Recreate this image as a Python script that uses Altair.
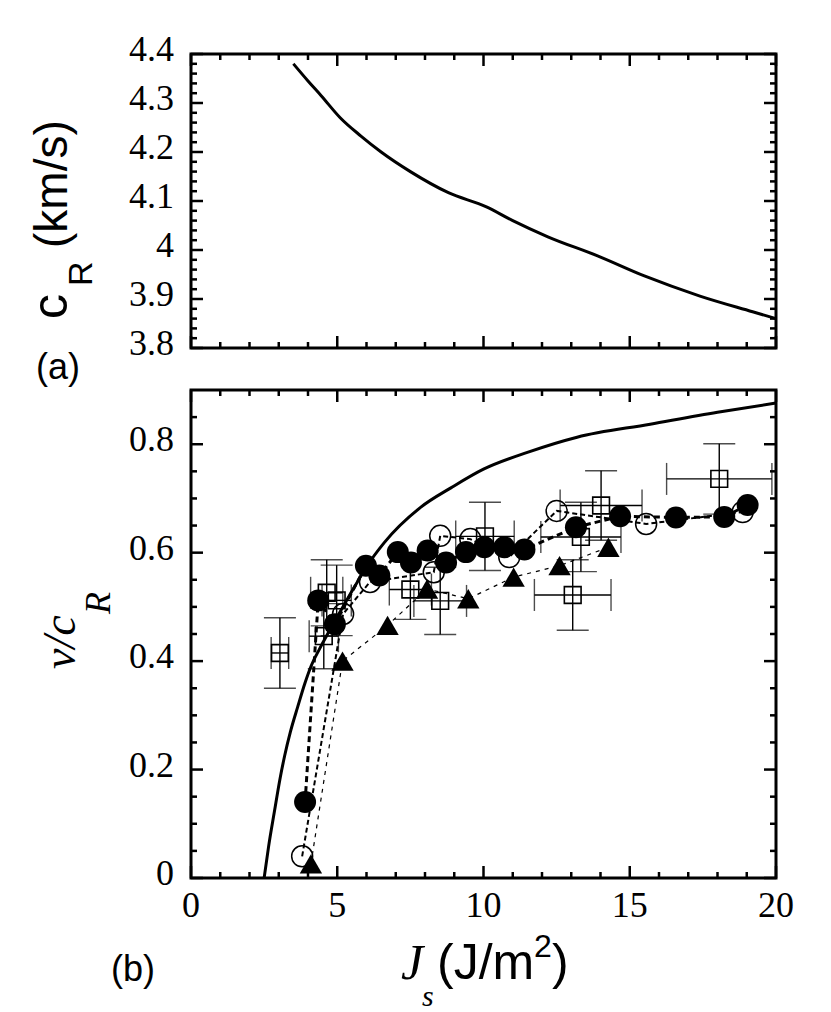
import altair as alt
import pandas as pd

# ---------------- data ----------------
# (a) Rayleigh wave speed c_R vs J_s
a_js = [3.5, 4.0, 4.45, 5.1, 5.8, 6.5, 7.5, 8.8, 10.1, 11.0, 12.2, 13.9, 15.5, 17.4, 19.2, 20.0]
a_cr = [4.38, 4.345, 4.315, 4.27, 4.233, 4.2, 4.16, 4.117, 4.088, 4.06, 4.027, 3.988, 3.947, 3.906, 3.874, 3.86]

# (b) theory curve
th_js = [2.5, 2.65, 2.85, 3.05, 3.2, 3.4, 3.65, 3.9, 4.1, 4.4, 4.67, 4.9, 5.6, 6.0, 6.6,
         7.86, 8.9, 10.0, 11.5, 13.2, 15.7, 18.0, 20.0]
th_v = [0.0, 0.057, 0.122, 0.185, 0.225, 0.27, 0.316, 0.36, 0.39, 0.423, 0.45, 0.472, 0.538, 0.574, 0.618,
        0.684, 0.72, 0.754, 0.785, 0.813, 0.837, 0.859, 0.876]

# filled circles
fc_js = [3.9, 4.35, 4.92, 5.98, 6.44, 7.07, 7.52, 8.09, 8.72, 9.4, 10.03, 10.71, 11.4, 13.16, 14.67, 16.58, 18.23, 19.03]
fc_v = [0.14, 0.512, 0.468, 0.576, 0.558, 0.601, 0.582, 0.604, 0.582, 0.601, 0.61, 0.61, 0.606, 0.647, 0.667, 0.665, 0.666, 0.688]

# open circles
oc_js = [3.8, 5.2, 6.12, 8.3, 8.52, 9.55, 10.88, 12.5, 15.56, 18.86]
oc_v = [0.04, 0.487, 0.546, 0.564, 0.631, 0.625, 0.592, 0.677, 0.653, 0.675]

# filled triangles
tr_js = [4.1, 5.18, 6.72, 8.07, 9.48, 11.03, 12.6, 14.27]
tr_v = [0.026, 0.40, 0.466, 0.533, 0.515, 0.555, 0.576, 0.61]

# open squares with error bars
sq_js = [3.04, 4.64, 4.98, 4.54, 7.5, 8.52, 10.05, 13.05, 13.33, 14.02, 18.06]
sq_v = [0.415, 0.526, 0.512, 0.446, 0.532, 0.511, 0.63, 0.522, 0.629, 0.687, 0.736]
sq_dx = [0.3, 0.55, 0.5, 0.5, 0.72, 0.9, 1.0, 1.31, 1.37, 1.4, 1.8]
sq_dv = [0.065, 0.061, 0.065, 0.06, 0.055, 0.062, 0.063, 0.065, 0.064, 0.064, 0.065]

# ticks and tick labels
x_major = [0, 5, 10, 15, 20]
x_minor = [1, 2, 3, 4, 6, 7, 8, 9, 11, 12, 13, 14, 16, 17, 18, 19]
a_y_major = [3.8, 3.9, 4.0, 4.1, 4.2, 4.3, 4.4]
a_y_minor = [3.82, 3.84, 3.86, 3.88, 3.92, 3.94, 3.96, 3.98, 4.02, 4.04, 4.06, 4.08,
             4.12, 4.14, 4.16, 4.18, 4.22, 4.24, 4.26, 4.28, 4.32, 4.34, 4.36, 4.38]
b_y_major = [0, 0.2, 0.4, 0.6, 0.8]
b_y_minor = [0.05, 0.1, 0.15, 0.25, 0.3, 0.35, 0.45, 0.5, 0.55, 0.65, 0.7, 0.75, 0.85]

# ---------------- layout ----------------
W = 585
HA = 294
HB = 488
SERIF = "Liberation Serif"
SANS = "Liberation Sans"
MAJ = 12
MIN = 6
LAB = 36

xs = alt.Scale(domain=[0, 20], nice=False, zero=False)
ya = alt.Scale(domain=[3.8, 4.4], nice=False, zero=False)
yb = alt.Scale(domain=[0, 0.9], nice=False, zero=False)


def X(f):
    return alt.X(f, type="quantitative", scale=xs, axis=None)


def Yf(f, scale):
    return alt.Y(f, type="quantitative", scale=scale, axis=None)


def tick_layers(xvals_major, xvals_minor, yvals_major, yvals_minor, yscale, H):
    out = []
    for vals, L in ((xvals_major, MAJ), (xvals_minor, MIN)):
        base = alt.Chart(pd.DataFrame({"t": vals})).mark_rule(color="black", strokeWidth=2.5)
        out.append(base.encode(x=X("t"), y=alt.value(H), y2=alt.value(H - L)))
        out.append(base.encode(x=X("t"), y=alt.value(0), y2=alt.value(L)))
    for vals, L in ((yvals_major, MAJ), (yvals_minor, MIN)):
        base = alt.Chart(pd.DataFrame({"t": vals})).mark_rule(color="black", strokeWidth=2.5)
        out.append(base.encode(y=Yf("t", yscale), x=alt.value(0), x2=alt.value(L)))
        out.append(base.encode(y=Yf("t", yscale), x=alt.value(W), x2=alt.value(W - L)))
    return out


def y_labels(vals, yscale):
    return alt.Chart(pd.DataFrame({"t": vals})).mark_text(
        font=SERIF, fontSize=LAB, align="right", baseline="middle", color="black", dy=-4
    ).encode(y=Yf("t", yscale), x=alt.value(-17), text=alt.Text("t:Q", format=".1~f"))


def x_labels(vals, H):
    return alt.Chart(pd.DataFrame({"t": vals})).mark_text(
        font=SERIF, fontSize=LAB, align="center", baseline="top", color="black"
    ).encode(x=X("t"), y=alt.value(H + 11), text=alt.Text("t:Q", format="d"))


def label(txt, x, y, size, font, style="normal", angle=0, align="left"):
    return alt.Chart(pd.DataFrame({"t": [txt]})).mark_text(
        font=font, fontSize=size, fontStyle=style, angle=angle, align=align,
        baseline="alphabetic", color="black"
    ).encode(x=alt.value(x), y=alt.value(y), text="t:N")


# ---------------- panel (a) ----------------
df_a = pd.DataFrame({"js": a_js, "cr": a_cr})
curve_a = alt.Chart(df_a).mark_line(color="black", strokeWidth=3, interpolate="monotone").encode(
    x=X("js"), y=Yf("cr", ya))

panel_a = alt.layer(
    curve_a,
    *tick_layers(x_major, x_minor, a_y_major, a_y_minor, ya, HA),
    y_labels(a_y_major, ya),
    label("c", -124, 265, 50, SANS, angle=270),
    label("R", -99, 232, 34, SANS, angle=270),
    label("(km/s)", -124, 194, 46, SANS, angle=270),
    label("(a)", -155, 325, 36, SANS),
).properties(width=W, height=HA)

# ---------------- panel (b) ----------------
df_th = pd.DataFrame({"js": th_js, "v": th_v})
df_fc = pd.DataFrame({"js": fc_js, "v": fc_v, "i": list(range(len(fc_js)))})
df_oc = pd.DataFrame({"js": oc_js, "v": oc_v, "i": list(range(len(oc_js)))})
df_tr = pd.DataFrame({"js": tr_js, "v": tr_v, "i": list(range(len(tr_js)))})
df_sq = pd.DataFrame({"js": sq_js, "v": sq_v, "dx": sq_dx, "dv": sq_dv})

sq_base = alt.Chart(df_sq).transform_calculate(
    xlo="datum.js - datum.dx", xhi="datum.js + datum.dx",
    vlo="datum.v - datum.dv", vhi="datum.v + datum.dv",
)
ebar_x = sq_base.mark_rule(color="black", strokeWidth=1.4).encode(
    x=X("xlo"), x2="xhi:Q", y=Yf("v", yb))
ebar_y = sq_base.mark_rule(color="black", strokeWidth=1.4).encode(
    x=X("js"), y=Yf("vlo", yb), y2="vhi:Q")
cap_lo = sq_base.mark_tick(orient="horizontal", size=32, thickness=1.4, color="black").encode(
    x=X("js"), y=Yf("vlo", yb))
cap_hi = sq_base.mark_tick(orient="horizontal", size=32, thickness=1.4, color="black").encode(
    x=X("js"), y=Yf("vhi", yb))
cap_l = sq_base.mark_tick(orient="vertical", size=32, thickness=1.4, color="black").encode(
    x=X("xlo"), y=Yf("v", yb))
cap_r = sq_base.mark_tick(orient="vertical", size=32, thickness=1.4, color="black").encode(
    x=X("xhi"), y=Yf("v", yb))
squares = alt.Chart(df_sq).mark_point(shape="square", size=280, filled=False, color="black",
                                      strokeWidth=1.6, opacity=1).encode(
    x=X("js"), y=Yf("v", yb))

tr_line = alt.Chart(df_tr).mark_line(color="black", strokeWidth=1.2, strokeDash=[4, 5]).encode(
    x=X("js"), y=Yf("v", yb), order="i:Q")
tr_pts = alt.Chart(df_tr).mark_point(shape="triangle-up", size=500, filled=True, color="black",
                                     opacity=1).encode(x=X("js"), y=Yf("v", yb))

oc_line = alt.Chart(df_oc).mark_line(color="black", strokeWidth=2, strokeDash=[5, 3]).encode(
    x=X("js"), y=Yf("v", yb), order="i:Q")
oc_pts = alt.Chart(df_oc).mark_point(shape="circle", size=440, filled=False, color="black",
                                     strokeWidth=1.5, opacity=1).encode(x=X("js"), y=Yf("v", yb))

fc_line = alt.Chart(df_fc).mark_line(color="black", strokeWidth=3, strokeDash=[6, 4]).encode(
    x=X("js"), y=Yf("v", yb), order="i:Q")
fc_pts = alt.Chart(df_fc).mark_point(shape="circle", size=484, filled=True, color="black",
                                     opacity=1).encode(x=X("js"), y=Yf("v", yb))

theory = alt.Chart(df_th).mark_line(color="black", strokeWidth=3, interpolate="monotone").encode(
    x=X("js"), y=Yf("v", yb))

panel_b = alt.layer(
    theory,
    ebar_x, ebar_y, cap_lo, cap_hi, cap_l, cap_r, squares,
    tr_line, tr_pts,
    oc_line, oc_pts,
    fc_line, fc_pts,
    *tick_layers(x_major, x_minor, b_y_major, b_y_minor, yb, HB),
    y_labels(b_y_major, yb),
    x_labels(x_major, HB),
    label("v/c", -116, 279, 46, SERIF, style="italic", angle=270),
    label("R", -81, 224, 36, SERIF, style="italic", angle=270),
    label("(b)", -80, 591, 36, SANS),
    label("J", 210, 589, 50, SERIF, style="italic"),
    label("s", 231, 616, 30, SERIF, style="italic"),
    label("(J/m", 246, 589, 50, SANS),
    label("2", 343, 567, 32, SANS),
    label(")", 361, 589, 50, SANS),
).properties(width=W, height=HB)

chart = alt.vconcat(panel_a, panel_b, spacing=42, bounds="flush").properties(
    padding={"left": 17, "top": 22, "right": 10, "bottom": 5},
    background="white",
).configure_view(stroke="black", strokeWidth=3)

chart.save("out.html", embed_options={"renderer": "svg", "actions": False})
